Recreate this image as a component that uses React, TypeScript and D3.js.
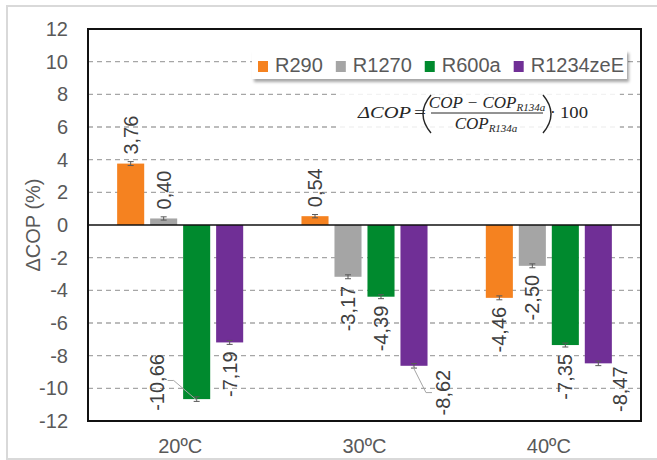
import React, { useEffect, useRef } from "react";
import * as d3 from "d3";

const categories = ["20ºC", "30ºC", "40ºC"];
const seriesNames = ["R290", "R1270", "R600a", "R1234zeE"];
const R290 = [3.76, 0.54, -4.46];
const R1270 = [0.4, -3.17, -2.5];
const R600a = [-10.66, -4.39, -7.35];
const R1234zeE = [-7.19, -8.62, -8.47];
const errR290 = [0.12, 0.1, 0.12];
const errR1270 = [0.1, 0.12, 0.12];
const errR600a = [0.14, 0.12, 0.12];
const errR1234zeE = [0.12, 0.14, 0.14];
const yTicks = [-12, -10, -8, -6, -4, -2, 0, 2, 4, 6, 8, 10, 12];
const yLabel = "ΔCOP (%)";

const seriesValues: Record<string, number[]> = { R290, R1270, R600a, R1234zeE };
const seriesErrors: Record<string, number[]> = {
  R290: errR290,
  R1270: errR1270,
  R600a: errR600a,
  R1234zeE: errR1234zeE,
};
const colors: Record<string, string> = {
  R290: "#F58220",
  R1270: "#A5A5A5",
  R600a: "#008A2E",
  R1234zeE: "#702F96",
};

// label layout adjustments (pixels), keyed by category|series
const labelAdjust: Record<string, { dx: number; dy: number; leader?: "left" | "right" }> = {
  "20ºC|R600a": { dx: -40, dy: -54, leader: "left" },
  "30ºC|R1234zeE": { dx: 29, dy: -5, leader: "right" },
  "40ºC|R1234zeE": { dx: 22, dy: -6 },
};

const W = 657;
const H = 460;
const FONT = "'Liberation Sans', Arial, sans-serif";

export default function App() {
  const ref = useRef<SVGSVGElement>(null);

  useEffect(() => {
    const svg = d3.select(ref.current);
    svg.selectAll("*").remove();

    const left = 88, right = 641, top = 29, bottom = 421;
    const y = d3.scaleLinear().domain([-12, 12]).range([bottom, top]);
    const x0 = d3.scaleBand<string>().domain(categories).range([left, right]).paddingInner(0.284).paddingOuter(0.142);
    const x1 = d3.scaleBand<string>().domain(seriesNames).range([0, x0.bandwidth()]).paddingInner(0.18).paddingOuter(0.09);

    const defs = svg.append("defs");
    const f = defs.append("filter").attr("id", "legShadow").attr("x", "-5%").attr("y", "-30%").attr("width", "115%").attr("height", "190%");
    f.append("feDropShadow").attr("dx", 2).attr("dy", 3).attr("stdDeviation", 1.6).attr("flood-color", "#000").attr("flood-opacity", 0.35);

    svg.append("rect").attr("x", 0).attr("y", 0).attr("width", W).attr("height", H).attr("fill", "#fff");
    // outer frame
    svg.append("rect").attr("x", 7).attr("y", 6).attr("width", 660).attr("height", 453)
      .attr("fill", "none").attr("stroke", "#d9d9d9").attr("stroke-width", 2);

    // grid
    svg.append("g").selectAll("line").data(yTicks.filter((t) => t !== 0 && Math.abs(t) !== 12)).join("line")
      .attr("x1", left).attr("x2", right).attr("y1", (d) => y(d)).attr("y2", (d) => y(d))
      .attr("stroke", "#a6a6a6").attr("stroke-width", 1.3).attr("stroke-dasharray", "5,4");

    // bars
    const flat = categories.flatMap((c, ci) =>
      seriesNames.map((s) => ({ c, s, v: seriesValues[s][ci], e: seriesErrors[s][ci] }))
    );
    const bx = (d: { c: string; s: string }) => (x0(d.c) as number) + (x1(d.s) as number);
    const bw = x1.bandwidth();
    svg.append("g").selectAll("rect").data(flat).join("rect")
      .attr("x", (d) => bx(d)).attr("width", bw)
      .attr("y", (d) => Math.min(y(d.v), y(0))).attr("height", (d) => Math.abs(y(d.v) - y(0)))
      .attr("fill", (d) => colors[d.s]);

    // error bars
    const eb = svg.append("g").attr("stroke", "#595959").attr("stroke-width", 1);
    flat.forEach((d) => {
      const cx = bx(d) + bw / 2;
      eb.append("line").attr("x1", cx).attr("x2", cx).attr("y1", y(d.v - d.e)).attr("y2", y(d.v + d.e));
      eb.append("line").attr("x1", cx - 3).attr("x2", cx + 3).attr("y1", y(d.v - d.e)).attr("y2", y(d.v - d.e));
      eb.append("line").attr("x1", cx - 3).attr("x2", cx + 3).attr("y1", y(d.v + d.e)).attr("y2", y(d.v + d.e));
    });

    // plot frame and zero line
    svg.append("rect").attr("x", left).attr("y", top).attr("width", right - left).attr("height", bottom - top)
      .attr("fill", "none").attr("stroke", "#111").attr("stroke-width", 2);
    svg.append("line").attr("x1", left).attr("x2", right).attr("y1", y(0)).attr("y2", y(0))
      .attr("stroke", "#111").attr("stroke-width", 1.5);

    // y tick labels
    svg.append("g").selectAll("text").data(yTicks).join("text")
      .attr("x", 68).attr("y", (d) => y(d)).attr("dy", "0.35em").attr("text-anchor", "end")
      .attr("font-family", FONT).attr("font-size", 20).attr("fill", "#595959")
      .text((d) => String(d));

    // y axis label
    svg.append("text").attr("transform", `translate(40,${y(0)}) rotate(-90)`)
      .attr("text-anchor", "middle").attr("font-family", FONT).attr("font-size", 20).attr("fill", "#595959")
      .text(yLabel);

    // x labels
    svg.append("g").selectAll("text").data(categories).join("text")
      .attr("x", (d) => (x0(d) as number) + x0.bandwidth() / 2).attr("y", 453)
      .attr("text-anchor", "middle").attr("font-family", FONT).attr("font-size", 20).attr("fill", "#595959")
      .text((d) => d);

    // data labels
    const lg = svg.append("g");
    flat.forEach((d) => {
      const cx = bx(d) + bw / 2;
      const adj = labelAdjust[`${d.c}|${d.s}`] || { dx: 0, dy: 0 };
      const txt = d.v.toFixed(2).replace(".", ",");
      const pos = d.v >= 0;
      const ax = cx + adj.dx;
      const ay = pos ? y(d.v) - 9 + adj.dy : y(d.v) + 9 + adj.dy;
      const t = lg.append("text")
        .attr("transform", `translate(${ax},${ay}) rotate(-90)`)
        .attr("text-anchor", pos ? "start" : "end")
        .attr("dominant-baseline", "central")
        .attr("font-family", FONT).attr("font-size", 20).attr("fill", "#404040")
        .text(txt);
      if (adj.leader) {
        const L = (t.node() as SVGTextElement).getComputedTextLength();
        const midY = ay + L / 2;
        const barEndY = y(d.v) + 1;
        let pts: [number, number][];
        if (adj.leader === "left") {
          const lx = ax + 11;
          pts = [[lx, midY - 2], [lx + 6, midY - 2], [cx, barEndY]];
        } else {
          const lx = ax - 11;
          pts = [[cx - 1, barEndY], [lx - 6, midY], [lx, midY]];
        }
        lg.append("path").attr("d", d3.line()(pts) as string)
          .attr("fill", "none").attr("stroke", "#a6a6a6").attr("stroke-width", 1);
      }
    });

    // legend
    const leg = svg.append("g");
    leg.append("rect").attr("x", 252).attr("y", 50).attr("width", 375).attr("height", 29)
      .attr("fill", "#fff").attr("filter", "url(#legShadow)");
    let lx = 258;
    seriesNames.forEach((s) => {
      leg.append("rect").attr("x", lx).attr("y", 61).attr("width", 10).attr("height", 11).attr("fill", colors[s]);
      const t = leg.append("text").attr("x", lx + 17).attr("y", 72)
        .attr("font-family", FONT).attr("font-size", 20).attr("fill", "#595959").text(s);
      const w = (t.node() as SVGTextElement).getComputedTextLength();
      lx = lx + 17 + w + 13;
    });

    // formula
    const fm = svg.append("g").attr("fill", "#262626");
    fm.append("rect").attr("x", 340).attr("y", 88).attr("width", 280).attr("height", 48).attr("fill", "#fff").attr("opacity", 0.85);
    const SERIF = "'Liberation Serif', 'DejaVu Serif', serif";
    const it = (x: number, yy: number, s: string, size: number, len?: number, italic = true) => {
      const t = fm.append("text").attr("x", x).attr("y", yy).attr("font-family", SERIF)
        .attr("font-style", italic ? "italic" : "normal").attr("font-size", size).text(s);
      if (len) t.attr("textLength", len).attr("lengthAdjust", "spacingAndGlyphs");
      return t;
    };
    const withSub = (cx: number, yy: number, main: string, sub: string) => {
      const t = fm.append("text").attr("x", cx).attr("y", yy).attr("text-anchor", "middle")
        .attr("font-family", SERIF).attr("font-style", "italic").attr("font-size", 17);
      t.append("tspan").text(main);
      t.append("tspan").attr("font-size", 11).attr("dy", 3).text(sub);
      return t;
    };
    it(358, 118, "ΔCOP", 17.5, 53);
    it(414, 118, "=", 17, 12, false);
    withSub(487, 108, "COP − COP", "R134a");
    withSub(486, 129, "COP", "R134a");
    fm.append("line").attr("x1", 431).attr("x2", 543).attr("y1", 113).attr("y2", 113)
      .attr("stroke", "#262626").attr("stroke-width", 1);
    fm.append("path").attr("d", "M431,95 Q415,114 431,133").attr("fill", "none").attr("stroke", "#262626").attr("stroke-width", 1.4);
    fm.append("path").attr("d", "M543,95 Q559,114 543,133").attr("fill", "none").attr("stroke", "#262626").attr("stroke-width", 1.4);
    it(550, 118, "·", 17, undefined, false);
    it(560, 118, "100", 17.5, 28, false);
  }, []);

  return (
    <svg
      ref={ref}
      width={W}
      height={H}
      style={{ position: "absolute", left: 0, top: 0, display: "block" }}
    />
  );
}
